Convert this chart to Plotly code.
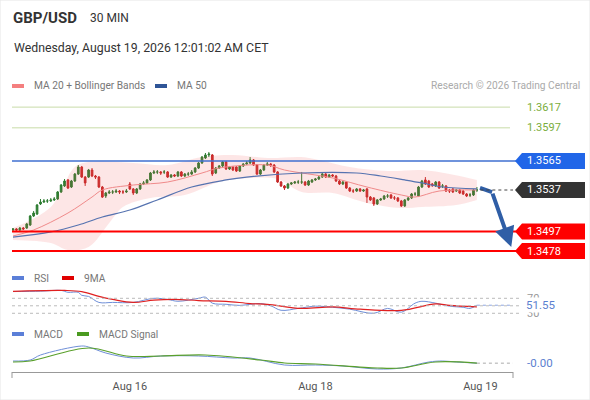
import plotly.graph_objects as go

# ---------------- data ----------------
opens = [1.34984,1.34994,1.34984,1.35003,1.35003,1.35032,1.35119,1.35138,1.35235,1.35254,
         1.35264,1.35264,1.35274,1.35283,1.35351,1.35409,1.35467,1.35399,1.35457,1.35524,
         1.35592,1.35495,1.35495,1.35563,1.35505,1.35495,1.35399,1.35312,1.35341,1.35351,
         1.35351,1.35360,1.35351,1.35351,1.35428,1.35380,1.35341,1.35380,1.35428,1.35438,
         1.35467,1.35534,1.35544,1.35544,1.35544,1.35544,1.35495,1.35515,1.35505,1.35544,
         1.35505,1.35524,1.35524,1.35544,1.35582,1.35631,1.35679,1.35708,1.35708,1.35534,
         1.35582,1.35602,1.35640,1.35573,1.35592,1.35592,1.35553,1.35602,1.35621,1.35631,
         1.35660,1.35611,1.35524,1.35563,1.35611,1.35621,1.35611,1.35544,1.35447,1.35409,
         1.35389,1.35428,1.35438,1.35447,1.35447,1.35447,1.35418,1.35447,1.35467,1.35476,
         1.35495,1.35524,1.35495,1.35515,1.35505,1.35457,1.35428,1.35447,1.35389,1.35360,
         1.35360,1.35380,1.35360,1.35380,1.35302,1.35293,1.35235,1.35274,1.35283,1.35312,
         1.35322,1.35293,1.35293,1.35264,1.35216,1.35274,1.35293,1.35331,1.35312,1.35399,
         1.35467,1.35457,1.35428,1.35409,1.35447,1.35409,1.35409,1.35370,1.35380,1.35360,
         1.35370,1.35360,1.35331,1.35322,1.35322,1.35370]
closes = [1.34994,1.34984,1.35003,1.34994,1.35042,1.35119,1.35148,1.35225,1.35254,1.35264,
          1.35264,1.35274,1.35283,1.35351,1.35418,1.35457,1.35389,1.35457,1.35524,1.35592,
          1.35495,1.35438,1.35563,1.35505,1.35495,1.35399,1.35302,1.35341,1.35351,1.35351,
          1.35360,1.35351,1.35351,1.35360,1.35380,1.35341,1.35380,1.35428,1.35438,1.35467,
          1.35534,1.35544,1.35544,1.35534,1.35544,1.35495,1.35515,1.35505,1.35544,1.35505,
          1.35524,1.35524,1.35544,1.35582,1.35631,1.35688,1.35708,1.35717,1.35524,1.35582,
          1.35602,1.35640,1.35573,1.35592,1.35563,1.35553,1.35602,1.35621,1.35631,1.35660,
          1.35611,1.35524,1.35563,1.35611,1.35621,1.35611,1.35544,1.35447,1.35409,1.35389,
          1.35428,1.35438,1.35447,1.35447,1.35447,1.35418,1.35457,1.35467,1.35476,1.35495,
          1.35524,1.35495,1.35515,1.35505,1.35457,1.35428,1.35447,1.35389,1.35360,1.35360,
          1.35380,1.35360,1.35370,1.35302,1.35274,1.35235,1.35274,1.35283,1.35312,1.35312,
          1.35293,1.35293,1.35264,1.35216,1.35274,1.35293,1.35331,1.35331,1.35399,1.35457,
          1.35428,1.35399,1.35418,1.35447,1.35389,1.35409,1.35360,1.35360,1.35351,1.35370,
          1.35341,1.35331,1.35312,1.35322,1.35370,1.35370]
highs = [1.35003,1.35003,1.35013,1.35013,1.35052,1.35129,1.35167,1.35235,1.35283,1.35283,
         1.35283,1.35293,1.35302,1.35360,1.35428,1.35476,1.35476,1.35467,1.35534,1.35611,
         1.35602,1.35505,1.35573,1.35582,1.35515,1.35505,1.35409,1.35351,1.35370,1.35370,
         1.35380,1.35370,1.35370,1.35380,1.35447,1.35389,1.35389,1.35438,1.35457,1.35476,
         1.35544,1.35563,1.35563,1.35553,1.35563,1.35553,1.35524,1.35524,1.35553,1.35553,
         1.35534,1.35544,1.35563,1.35592,1.35640,1.35698,1.35727,1.35737,1.35717,1.35592,
         1.35611,1.35650,1.35650,1.35602,1.35602,1.35602,1.35611,1.35631,1.35650,1.35688,
         1.35669,1.35621,1.35573,1.35621,1.35640,1.35631,1.35621,1.35553,1.35457,1.35418,
         1.35438,1.35447,1.35457,1.35467,1.35544,1.35457,1.35467,1.35476,1.35486,1.35505,
         1.35534,1.35534,1.35524,1.35524,1.35515,1.35467,1.35457,1.35457,1.35399,1.35380,
         1.35389,1.35389,1.35380,1.35389,1.35312,1.35302,1.35283,1.35293,1.35322,1.35331,
         1.35331,1.35312,1.35302,1.35274,1.35283,1.35302,1.35341,1.35351,1.35409,1.35467,
         1.35495,1.35467,1.35438,1.35457,1.35457,1.35428,1.35418,1.35380,1.35389,1.35380,
         1.35380,1.35370,1.35341,1.35341,1.35380,1.35399]
lows = [1.34974,1.34974,1.34974,1.34984,1.34994,1.35023,1.35109,1.35129,1.35225,1.35245,
        1.35245,1.35254,1.35264,1.35274,1.35341,1.35399,1.35380,1.35389,1.35447,1.35515,
        1.35486,1.35409,1.35486,1.35495,1.35476,1.35389,1.35293,1.35293,1.35331,1.35331,
        1.35341,1.35331,1.35331,1.35341,1.35370,1.35322,1.35331,1.35370,1.35418,1.35428,
        1.35457,1.35524,1.35524,1.35515,1.35524,1.35486,1.35486,1.35495,1.35495,1.35495,
        1.35495,1.35505,1.35515,1.35534,1.35573,1.35621,1.35669,1.35688,1.35505,1.35524,
        1.35573,1.35592,1.35563,1.35563,1.35553,1.35544,1.35544,1.35592,1.35611,1.35621,
        1.35602,1.35515,1.35515,1.35553,1.35602,1.35592,1.35534,1.35438,1.35399,1.35370,
        1.35380,1.35418,1.35428,1.35428,1.35428,1.35409,1.35409,1.35438,1.35457,1.35467,
        1.35486,1.35486,1.35486,1.35495,1.35447,1.35418,1.35418,1.35380,1.35351,1.35341,
        1.35351,1.35351,1.35351,1.35245,1.35264,1.35216,1.35225,1.35264,1.35274,1.35293,
        1.35283,1.35274,1.35254,1.35206,1.35206,1.35264,1.35283,1.35312,1.35302,1.35389,
        1.35418,1.35389,1.35399,1.35399,1.35380,1.35389,1.35351,1.35341,1.35341,1.35351,
        1.35331,1.35322,1.35302,1.35302,1.35312,1.35351]
bars = list(range(len(closes)))

# indicator readings (sampled bar index -> value)
ma20_idx = [0, 6, 16, 23, 26, 35, 45, 55, 60, 74, 79, 93, 103, 113, 117, 124, 135]
ma20_val = [1.34926, 1.34984, 1.35148, 1.35302, 1.35370, 1.35418, 1.35447, 1.35534, 1.35582,
            1.35611, 1.35563, 1.35486, 1.35399, 1.35322, 1.35302, 1.35360, 1.35370]
ma50_idx = [0, 11, 19, 26, 34, 42, 52, 62, 68, 84, 100, 107, 114, 119, 125, 135]
ma50_val = [1.34916, 1.34965, 1.35032, 1.35109, 1.35177, 1.35274, 1.35399, 1.35467, 1.35495,
            1.35534, 1.35534, 1.35505, 1.35467, 1.35438, 1.35399, 1.35380]
bbu_idx = [0, 11, 18, 22, 35, 45, 55, 64, 74, 84, 89, 98, 109, 119, 127, 135]
bbu_val = [1.35003, 1.35206, 1.35592, 1.35640, 1.35631, 1.35611, 1.35688, 1.35708, 1.35679,
           1.35688, 1.35660, 1.35592, 1.35553, 1.35563, 1.35524, 1.35467]
bbl_idx = [0, 11, 16, 22, 28, 32, 40, 50, 60, 69, 77, 84, 93, 103, 113, 119, 129, 135]
bbl_val = [1.34888, 1.34859, 1.34791, 1.34820, 1.35052, 1.35206, 1.35293, 1.35322, 1.35447,
           1.35486, 1.35476, 1.35351, 1.35341, 1.35245, 1.35196, 1.35206, 1.35225, 1.35274]

rsi_idx = [0, 8, 14, 16, 19, 20, 22, 25, 29, 35, 41, 45, 48, 54, 56, 58, 62, 66, 69, 72, 75,
           78, 83, 88, 93, 98, 105, 109, 113, 117, 119, 123, 127, 131, 133, 135]
rsi_val = [88, 89, 91, 86, 86, 78, 75, 59, 59, 59, 70, 67, 62, 70, 73, 57, 54, 51, 54, 56, 50,
           38, 43, 49, 46, 41, 30, 43, 33, 57, 62, 57, 49, 46, 43, 51.55]
rsima_idx = [0, 15, 20, 25, 29, 35, 41, 47, 54, 62, 69, 74, 84, 93, 101, 113, 123, 127, 135]
rsima_val = [88.7, 91, 88, 75, 67, 59, 65, 67, 64, 62, 56, 54, 43, 47, 41, 38, 55, 51, 47]

macd_idx = [0, 5, 8, 20, 22, 27, 35, 43, 54, 64, 69, 79, 88, 96, 106, 113, 121, 125, 129, 135]
macd_val = [0.00012, 0.00018, 0.00048, 0.00102, 0.00096, 0.0006, 0.0003, 0.00042, 0.00042,
            0.0003, 0.0003, -0.00012, -0.00012, -0.00018, -0.00036, -0.0003, 0.00006, 0.00012,
            0.00006, -0.00001]
sig_idx = [0, 5, 22, 33, 43, 56, 72, 79, 88, 106, 113, 123, 135]
sig_val = [0.00006, 0.00012, 0.0009, 0.00042, 0.00042, 0.00048, 0.00018, 0.0, -0.00006,
           -0.0003, -0.0003, 0.00006, -0.00001]

tick_idx = [34, 88, 136]
tick_txt = ["Aug 16", "Aug 18", "Aug 19"]

res_levels = [1.3617, 1.3597]
pivot_level = 1.3565
sup_levels = [1.3497, 1.3478]
last_price = closes[-1]

fc_idx = [135.9, 139.4]
fc_val = [1.3539, 1.3535]
fc_tip = (145.0, 1.3482)

# ---------------- style ----------------
W, H = 590, 400
FONT = "Roboto"
GREEN_C = "#2e7d32"
RED_C = "#c62828"
def px(x): return x / W
def py(y): return 1 - y / H

Y_DOM = [py(262), py(95)]
Y_RNG = [1.34675, 1.36287]
def price_paper(v):
    return Y_DOM[0] + (v - Y_RNG[0]) / (Y_RNG[1] - Y_RNG[0]) * (Y_DOM[1] - Y_DOM[0])

fig = go.Figure()

# Bollinger band
fig.add_trace(go.Scatter(x=bbu_idx, y=bbu_val, mode="lines", line=dict(width=0, shape="spline"),
                         hoverinfo="skip", showlegend=False))
fig.add_trace(go.Scatter(x=bbl_idx, y=bbl_val, mode="lines", line=dict(width=0, shape="spline"),
                         fill="tonexty", fillcolor="rgba(244,80,80,0.14)", hoverinfo="skip",
                         showlegend=False))
fig.add_trace(go.Scatter(x=ma20_idx, y=ma20_val, mode="lines",
                         line=dict(color="#f08a8a", width=1, shape="spline"), showlegend=False))
fig.add_trace(go.Scatter(x=ma50_idx, y=ma50_val, mode="lines",
                         line=dict(color="#5673b0", width=1.2, shape="spline"), showlegend=False))

fig.add_trace(go.Candlestick(x=bars, open=opens, high=highs, low=lows, close=closes,
                             increasing=dict(line=dict(color=GREEN_C, width=1), fillcolor=GREEN_C),
                             decreasing=dict(line=dict(color=RED_C, width=1), fillcolor=RED_C),
                             whiskerwidth=0, showlegend=False))

# forecast arrow (shaft start)
fig.add_trace(go.Scatter(x=fc_idx, y=fc_val, mode="lines", line=dict(color="#2f5ea6", width=4),
                         cliponaxis=False, showlegend=False))

# RSI panel
fig.add_trace(go.Scatter(x=rsi_idx, y=rsi_val, mode="lines", yaxis="y2",
                         line=dict(color="#6f8fd8", width=1, shape="spline"), showlegend=False))
fig.add_trace(go.Scatter(x=rsima_idx, y=rsima_val, mode="lines", yaxis="y2",
                         line=dict(color="#e02020", width=1.2, shape="spline"), showlegend=False))
# MACD panel
fig.add_trace(go.Scatter(x=macd_idx, y=macd_val, mode="lines", yaxis="y3",
                         line=dict(color="#6f8fd8", width=1, shape="spline"), showlegend=False))
fig.add_trace(go.Scatter(x=sig_idx, y=sig_val, mode="lines", yaxis="y3",
                         line=dict(color="#5aa02c", width=1.2, shape="spline"), showlegend=False))

shapes = []
ann = []
def text(x, y, s, size, color, xanchor="left", xref="paper", yref="paper", **kw):
    ann.append(dict(xref=xref, yref=yref, x=x, y=y, text=s, showarrow=False, xanchor=xanchor,
                    yanchor="middle", font=dict(family=FONT, size=size, color=color), **kw))

# forecast arrow head
ann.append(dict(x=fc_tip[0], y=fc_tip[1], ax=fc_idx[-1], ay=fc_val[-1], xref="x", yref="y",
                axref="x", ayref="y", showarrow=True, arrowhead=2, arrowsize=1,
                arrowwidth=4, arrowcolor="#2f5ea6", text=""))

LBL = 11
# outer frame
shapes.append(dict(type="rect", xref="paper", yref="paper", x0=0, x1=1, y0=0, y1=1,
                   line=dict(color="#e6e6e6", width=1)))
# level lines
for lv in res_levels:
    shapes.append(dict(type="line", xref="paper", yref="y", x0=px(12), x1=px(510), y0=lv, y1=lv,
                       line=dict(color="#c8dca8", width=1)))
    text(px(525), price_paper(lv), f"{lv:.4f}", LBL, "#7aad3c")
shapes.append(dict(type="line", xref="paper", yref="y", x0=px(12), x1=px(516), y0=pivot_level,
                   y1=pivot_level, line=dict(color="#3f6fd0", width=1.3)))
for lv in sup_levels:
    shapes.append(dict(type="line", xref="paper", yref="y", x0=px(12), x1=px(516), y0=lv, y1=lv,
                       line=dict(color="#ff0000", width=2)))
shapes.append(dict(type="line", xref="x", yref="y", x0=bars[-1] + 1, x1=145.5, y0=last_price,
                   y1=last_price, line=dict(color="#444", width=1, dash="dot")))

h = 8 * 0.0000965
def tag(level, color):
    p = (f"M {px(515)},{level} L {px(522)},{level + h} L {px(585)},{level + h} "
         f"L {px(585)},{level - h} L {px(522)},{level - h} Z")
    shapes.append(dict(type="path", xref="paper", yref="y", path=p, fillcolor=color,
                       line=dict(width=0)))
    text(px(525), price_paper(level), f"{level:.4f}", LBL, "white")
tag(pivot_level, "#2166e8")
tag(last_price, "#333333")
for lv in sup_levels:
    tag(lv, "#ff0000")

# RSI guides
for v in (70, 50, 30):
    shapes.append(dict(type="line", xref="paper", yref="y2", x0=px(12), x1=px(520), y0=v, y1=v,
                       line=dict(color="#bbbbbb", width=1, dash="dot")))
for v in (70, 30):
    text(px(525), v, str(v), LBL, "#999999", yref="y2")
shapes.append(dict(type="line", xref="x", yref="y2", x0=rsi_idx[-1], x1=147.6, y0=rsi_val[-1],
                   y1=rsi_val[-1], line=dict(color="#8fa6e0", width=1, dash="dot")))
text(px(525), rsi_val[-1], f"{rsi_val[-1]:.2f}", LBL + 0.5, "#5b7fd0", yref="y2",
     bgcolor="white", borderpad=0)
# MACD guide
shapes.append(dict(type="line", xref="x", yref="y3", x0=macd_idx[-1], x1=147.6, y0=macd_val[-1],
                   y1=macd_val[-1], line=dict(color="#aaaaaa", width=1, dash="dot")))
text(px(525), macd_val[-1], f"{macd_val[-1]:.2f}", LBL + 0.5, "#5b7fd0", yref="y3")

# axis end caps
for xx in (12, 513):
    shapes.append(dict(type="line", xref="paper", yref="paper", x0=px(xx), x1=px(xx),
                       y0=py(372), y1=py(378), line=dict(color="#999999", width=1)))

# header
text(px(11), py(18), "<b>GBP/USD</b>", 15, "#333")
text(px(88), py(18), "30 MIN", 12, "#333")
text(px(12), py(48), "Wednesday, August 19, 2026 12:01:02 AM CET", 12.3, "#333")
text(px(582), py(86), "Research © 2026 Trading Central", 10.2, "#aaaaaa", xanchor="right")

def legend_item(x, y, color, label):
    shapes.append(dict(type="rect", xref="paper", yref="paper", x0=px(x), x1=px(x + 12),
                       y0=py(y + 2), y1=py(y - 2), fillcolor=color, line=dict(width=0)))
    text(px(x + 20), py(y), label, 10.2, "#777")
legend_item(12, 86, "#f47f7f", "MA 20 + Bollinger Bands")
legend_item(155, 86, "#2f5597", "MA 50")
legend_item(12, 278, "#5b7fd8", "RSI")
legend_item(62, 278, "#e00000", "9MA")
legend_item(12, 334, "#5b7fd8", "MACD")
legend_item(77, 334, "#4a9a20", "MACD Signal")

fig.update_layout(
    width=W, height=H, autosize=False, margin=dict(l=0, r=0, t=0, b=0),
    paper_bgcolor="white", plot_bgcolor="rgba(0,0,0,0)", showlegend=False,
    font=dict(family=FONT),
    xaxis=dict(domain=[px(12), px(513)], range=[-0.29, 145.5], anchor="y3",
               showgrid=False, zeroline=False, showline=True, linecolor="#999999", linewidth=1,
               tickvals=tick_idx, ticktext=tick_txt, ticks="", ticklabelstandoff=4,
               tickfont=dict(family=FONT, size=11, color="#555"), rangeslider=dict(visible=False)),
    yaxis=dict(domain=Y_DOM, range=Y_RNG, visible=False),
    yaxis2=dict(domain=[py(320), py(286)], range=[12.1, 102.8], visible=False),
    yaxis3=dict(domain=[py(372), py(338)], range=[-0.00054, 0.0015], visible=False),
)
fig.layout.shapes = shapes
fig.layout.annotations = ann

fig.write_html("out.html", config={"displayModeBar": False},
               post_script="document.body.style.margin='0';document.body.style.padding='0';")
